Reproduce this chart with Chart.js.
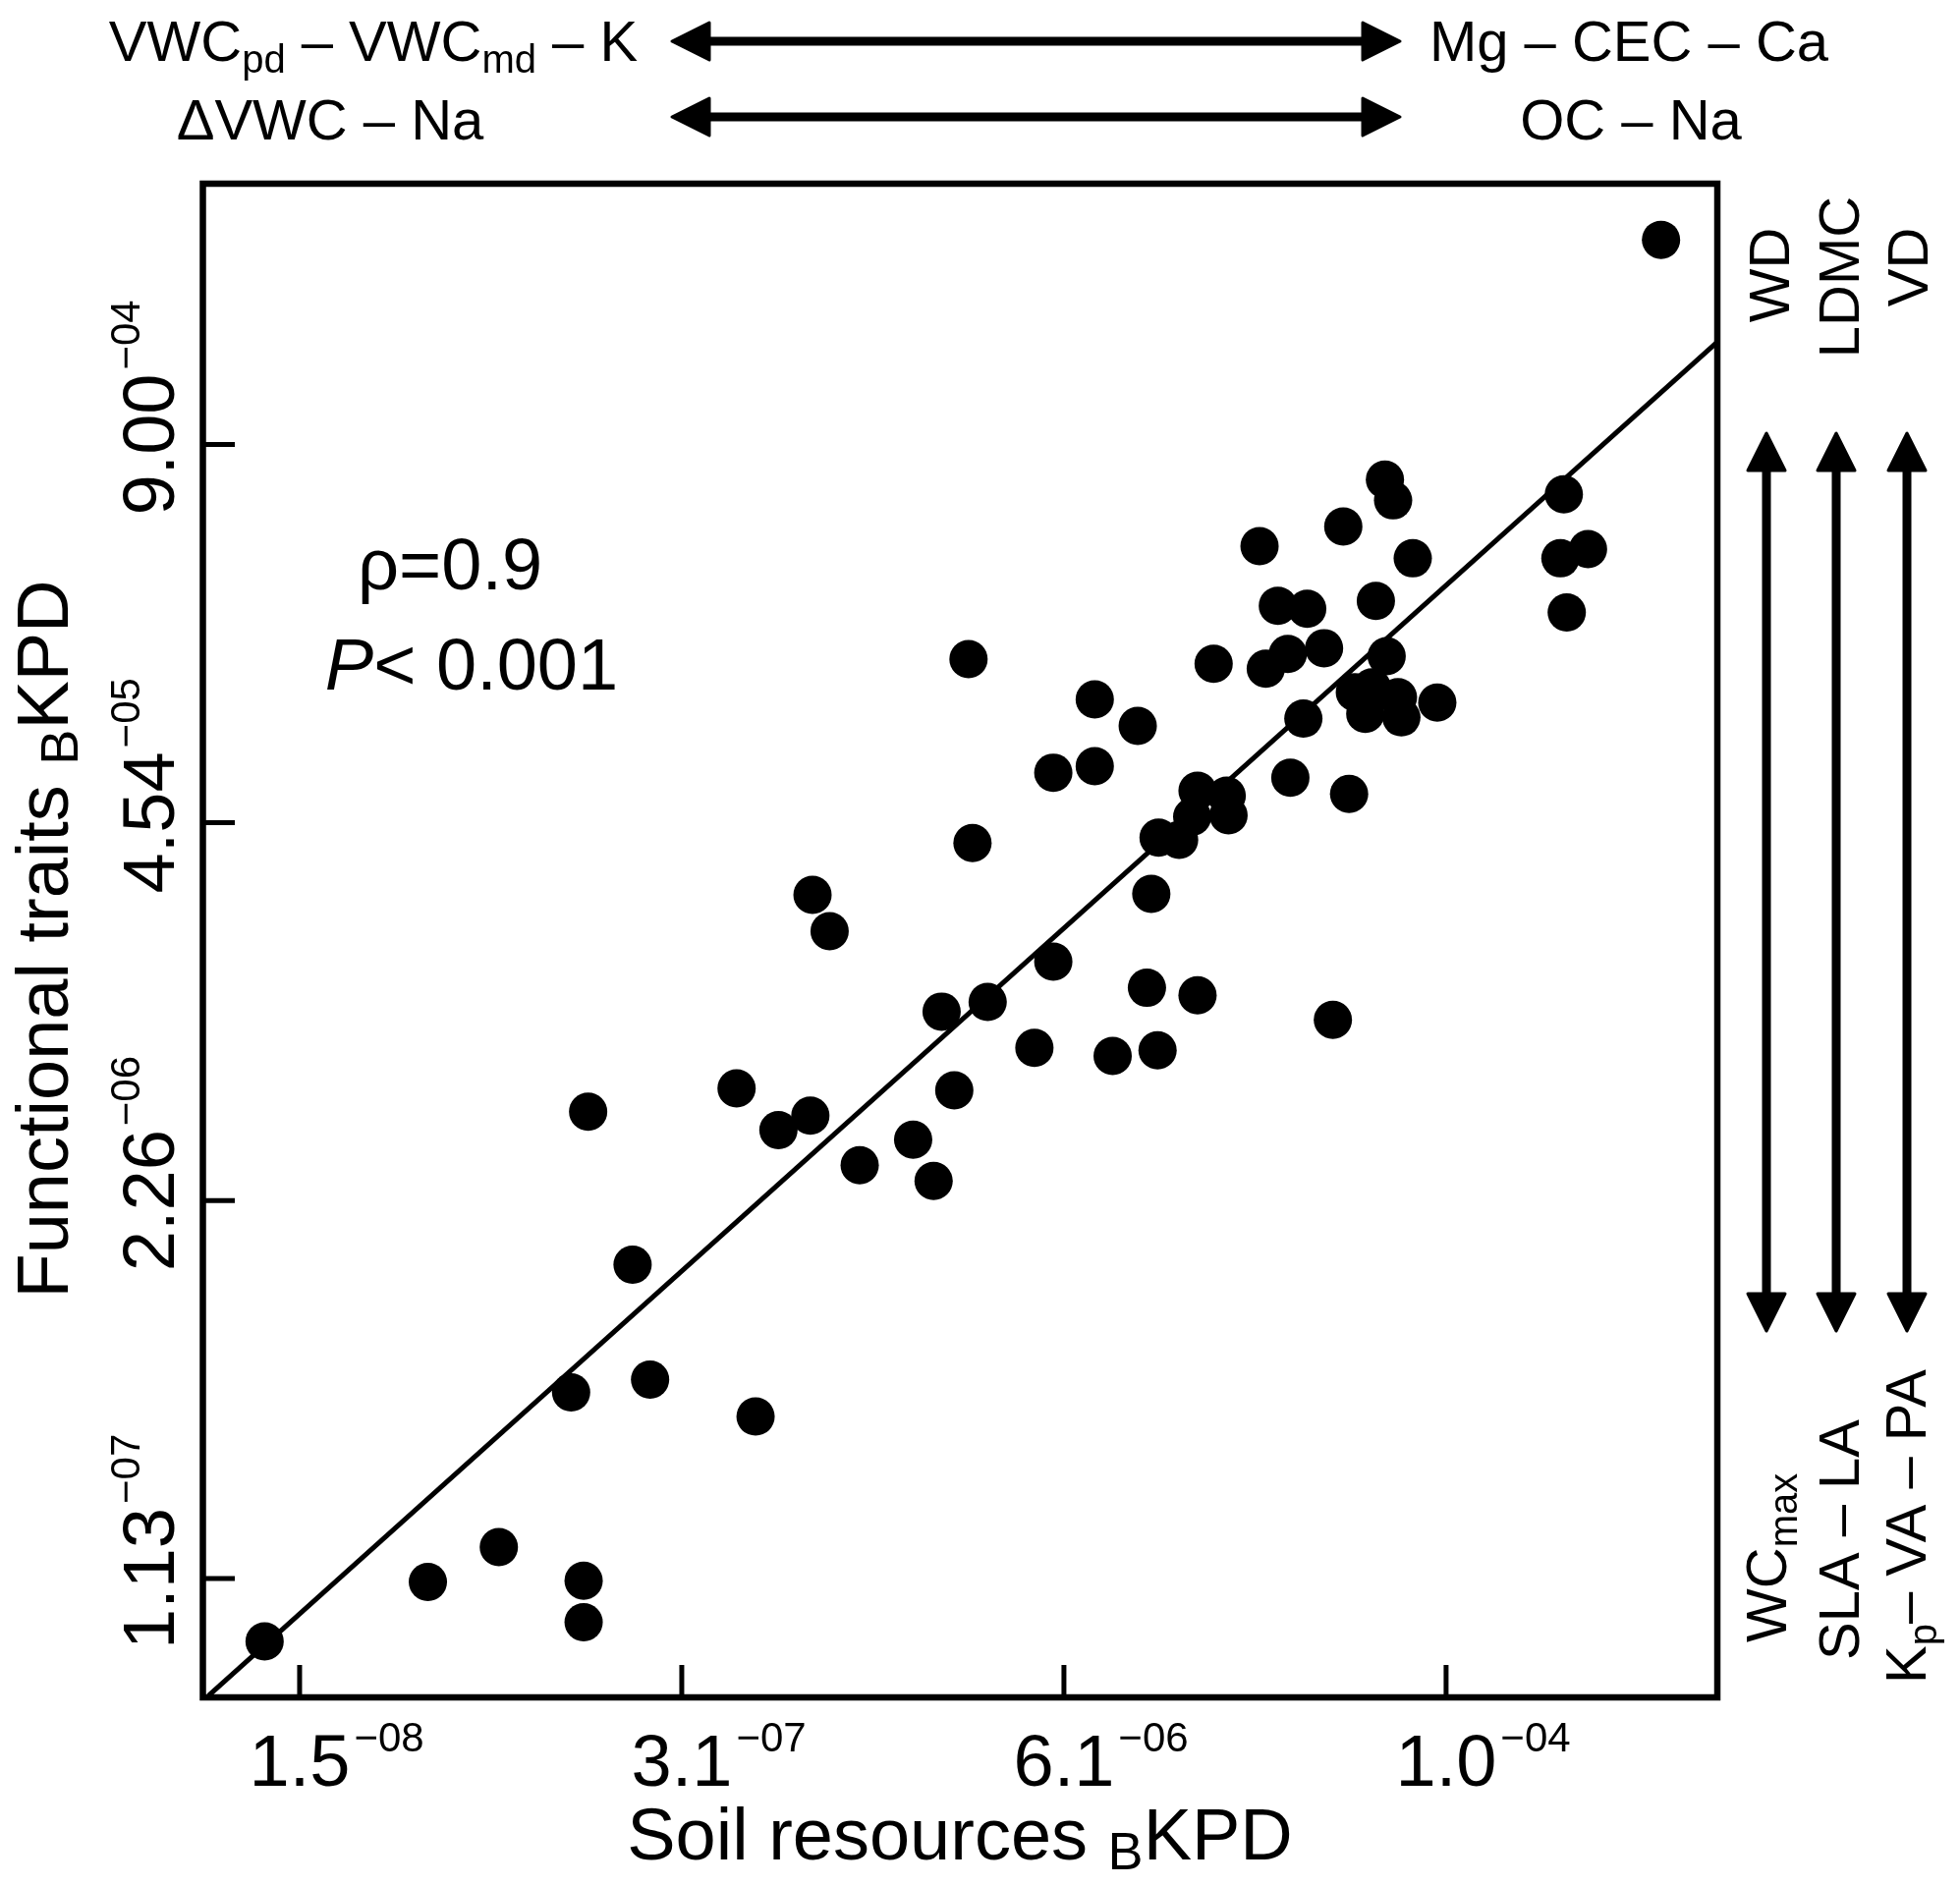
<!DOCTYPE html>
<html>
<head>
<meta charset="utf-8">
<script src="https://cdn.jsdelivr.net/npm/chart.js@4.4.1/dist/chart.umd.min.js"></script>
<style>
html,body{margin:0;padding:0;background:#fff;}
#wrap{width:1995px;height:1919px;}
</style>
</head>
<body>
<div id="wrap"><canvas id="c" width="1995" height="1919"></canvas></div>
<script>
// ---- data ----
const xValues = [
  6.47e-4, 7.43e-5, 7.92e-5, 5.36e-5, 2.78e-5, 9.24e-5, 3.02e-4, 2.94e-4, 3.65e-4, 3.09e-4,
  3.21e-5, 4.04e-5, 6.92e-5, 1.94e-5, 2.92e-5, 3.47e-5, 4.61e-5, 7.53e-5, 5.87e-5, 6.71e-5,
  6.37e-5, 8.23e-5, 8.45e-5, 1.12e-4, 3.92e-5, 3.54e-5, 5.61e-5, 2.84e-6, 7.64e-6, 1.07e-5,
  5.52e-6, 7.64e-6, 1.71e-5, 2.15e-5, 2.18e-5, 1.64e-5, 1.26e-5, 1.48e-5, 2.93e-6, 1.19e-5,
  5.52e-6, 3.30e-6, 2.30e-6, 4.76e-6, 8.79e-6, 1.25e-5, 1.15e-5, 1.71e-5, 4.94e-5, 2.54e-6,
  8.36e-7, 9.56e-7, 1.44e-7, 4.61e-7, 6.40e-7, 8.22e-7, 1.21e-6, 1.84e-6, 2.16e-6, 2.04e-7,
  1.26e-7, 2.34e-7, 5.35e-7, 7.15e-8, 4.10e-8, 1.39e-7, 1.39e-7, 1.14e-8
];
const yValues = [
  4.58e-3, 6.85e-4, 5.81e-4, 4.72e-4, 4.04e-4, 3.67e-4, 6.09e-4, 3.67e-4, 3.95e-4, 2.39e-4,
  2.52e-4, 2.46e-4, 2.62e-4, 1.59e-4, 1.53e-4, 1.72e-4, 1.80e-4, 1.69e-4, 1.27e-4, 1.32e-4,
  1.07e-4, 1.22e-4, 1.04e-4, 1.17e-4, 1.03e-4, 6.45e-5, 5.67e-5, 1.65e-4, 1.20e-4, 9.72e-5,
  6.71e-5, 7.07e-5, 5.82e-5, 5.59e-5, 4.79e-5, 4.73e-5, 4.01e-5, 3.94e-5, 3.84e-5, 2.57e-5,
  1.50e-5, 1.09e-5, 1.01e-5, 7.58e-6, 7.11e-6, 7.43e-6, 1.22e-5, 1.15e-5, 9.46e-6, 5.41e-6,
  2.55e-5, 1.91e-5, 4.57e-6, 5.50e-6, 3.95e-6, 4.43e-6, 2.99e-6, 3.66e-6, 2.64e-6, 1.36e-6,
  4.94e-7, 5.47e-7, 4.08e-7, 1.45e-7, 1.10e-7, 1.11e-7, 7.99e-8, 6.87e-8
];
// regression line end points (at the axis limits)
const fitX = [7.35e-9, 1.006e-3];
const fitY = [4.47e-8, 2.04e-3];

// axis ranges
const xRange = [7.35e-9, 1.006e-3];
const yRange = [4.406e-8, 7.146e-3];

// tick positions and labels
const xTickValues = [1.5e-8, 3.0e-7, 6.0e-6, 1.2e-4];
const xTickLabels = ['1.5', '3.1', '6.1', '1.0'];
const xTickExponents = ['\u221208', '\u221207', '\u221206', '\u221204'];
const yTickValues = [1.13e-7, 2.26e-6, 4.52e-5, 9.04e-4];
const yTickLabels = ['1.13', '2.26', '4.54', '9.00'];
const yTickExponents = ['\u221207', '\u221206', '\u221205', '\u221204'];

// texts
const xTitle = ['Soil resources ', 'B', 'KPD'];
const yTitle = ['Functional traits ', 'B', 'KPD'];
const statRho = '\u03C1=0.9';
const statP = ['P', '< 0.001'];

const FONT = '"Liberation Sans", Arial, Helvetica, sans-serif';

function setFont(ctx, r) {
  ctx.font = (r.italic ? 'italic ' : '') + r.size + 'px ' + FONT;
}
function runsWidth(ctx, runs) {
  let w = 0;
  for (const r of runs) { setFont(ctx, r); w += ctx.measureText(r.t).width; }
  return w;
}
function drawRuns(ctx, runs, x, y, align, rotate) {
  ctx.save();
  ctx.translate(x, y);
  if (rotate) ctx.rotate(-Math.PI / 2);
  const w = runsWidth(ctx, runs);
  let cx = align === 'center' ? -w / 2 : (align === 'right' ? -w : 0);
  ctx.textAlign = 'left';
  ctx.textBaseline = 'alphabetic';
  ctx.fillStyle = '#000';
  for (const r of runs) {
    setFont(ctx, r);
    ctx.fillText(r.t, cx, r.dy || 0);
    cx += ctx.measureText(r.t).width;
  }
  ctx.restore();
}
function dblArrow(ctx, x1, y1, x2, y2) {
  const L = 38, W = 38, S = 9;
  const dx = x2 - x1, dy = y2 - y1, len = Math.hypot(dx, dy);
  const ux = dx / len, uy = dy / len, nx = -uy, ny = ux;
  ctx.save();
  ctx.strokeStyle = '#000'; ctx.fillStyle = '#000';
  ctx.lineWidth = S; ctx.lineCap = 'butt';
  ctx.beginPath();
  ctx.moveTo(x1 + ux * (L - 4), y1 + uy * (L - 4));
  ctx.lineTo(x2 - ux * (L - 4), y2 - uy * (L - 4));
  ctx.stroke();
  ctx.lineWidth = 3; ctx.lineJoin = 'round';
  for (const [tx, ty, s] of [[x1, y1, 1], [x2, y2, -1]]) {
    const bx = tx + s * ux * L, by = ty + s * uy * L;
    ctx.beginPath();
    ctx.moveTo(tx, ty);
    ctx.lineTo(bx + nx * W / 2, by + ny * W / 2);
    ctx.lineTo(bx - nx * W / 2, by - ny * W / 2);
    ctx.closePath();
    ctx.fill(); ctx.stroke();
  }
  ctx.restore();
}

const decor = {
  id: 'decor',
  afterDraw(chart) {
    const ctx = chart.ctx, a = chart.chartArea;
    const xs = chart.scales.x, ys = chart.scales.y;
    ctx.save();
    // frame
    ctx.strokeStyle = '#000';
    ctx.lineWidth = 6.5;
    ctx.lineJoin = 'miter';
    ctx.strokeRect(a.left + 0.5, a.top, a.right - a.left - 0.5, a.bottom - a.top);
    // ticks (inward)
    ctx.lineWidth = 5;
    ctx.lineCap = 'butt';
    xTickValues.forEach(v => {
      const px = xs.getPixelForValue(v);
      ctx.beginPath(); ctx.moveTo(px, a.bottom); ctx.lineTo(px, a.bottom - 33); ctx.stroke();
    });
    yTickValues.forEach(v => {
      const py = ys.getPixelForValue(v);
      ctx.beginPath(); ctx.moveTo(a.left, py); ctx.lineTo(a.left + 33, py); ctx.stroke();
    });
    // x tick labels
    xTickValues.forEach((v, i) => {
      const px = xs.getPixelForValue(v);
      const main = [{ t: xTickLabels[i], size: 74 }];
      drawRuns(ctx, main, px, a.bottom + 90, 'center', false);
      const w = runsWidth(ctx, main);
      drawRuns(ctx, [{ t: xTickExponents[i], size: 42 }], px + w / 2 + 4, a.bottom + 55, 'left', false);
    });
    // y tick labels (rotated)
    yTickValues.forEach((v, i) => {
      const py = ys.getPixelForValue(v);
      const main = [{ t: yTickLabels[i], size: 74 }];
      const w = runsWidth(ctx, main);
      drawRuns(ctx, main, a.left - 29, py, 'center', true);
      ctx.save();
      ctx.translate(a.left - 29, py);
      ctx.rotate(-Math.PI / 2);
      ctx.fillStyle = '#000';
      ctx.textAlign = 'left';
      ctx.font = '42px ' + FONT;
      ctx.fillText(yTickExponents[i], w / 2 + 4, -35);
      ctx.restore();
    });
    // axis titles
    drawRuns(ctx, [{ t: xTitle[0], size: 74 }, { t: xTitle[1], size: 54, dy: 10 }, { t: xTitle[2], size: 74 }],
      (a.left + a.right) / 2, 1893, 'center', false);
    drawRuns(ctx, [{ t: yTitle[0], size: 74 }, { t: yTitle[1], size: 54, dy: 10 }, { t: yTitle[2], size: 74 }],
      69, 956, 'center', true);
    // statistics
    drawRuns(ctx, [{ t: statRho, size: 74 }], 458, 600, 'center', false);
    drawRuns(ctx, [{ t: statP[0], size: 74, italic: true }, { t: statP[1], size: 74 }], 480, 702, 'center', false);
    // top annotations
    drawRuns(ctx, [{ t: 'VWC', size: 58 }, { t: 'pd', size: 40, dy: 12 }, { t: ' \u2013 VWC', size: 58 },
      { t: 'md', size: 40, dy: 12 }, { t: ' \u2013 K', size: 58 }], 380, 62, 'center', false);
    drawRuns(ctx, [{ t: '\u0394VWC \u2013 Na', size: 58 }], 336, 142, 'center', false);
    drawRuns(ctx, [{ t: 'Mg \u2013 CEC \u2013 Ca', size: 58 }], 1658, 62, 'center', false);
    drawRuns(ctx, [{ t: 'OC \u2013 Na', size: 58 }], 1660, 142, 'center', false);
    dblArrow(ctx, 684, 42, 1425, 42);
    dblArrow(ctx, 684, 119, 1425, 119);
    // right annotations
    drawRuns(ctx, [{ t: 'WD', size: 58 }], 1821, 280, 'center', true);
    drawRuns(ctx, [{ t: 'LDMC', size: 58 }], 1892, 282, 'center', true);
    drawRuns(ctx, [{ t: 'VD', size: 58 }], 1962, 272, 'center', true);
    dblArrow(ctx, 1798, 441, 1798, 1355);
    dblArrow(ctx, 1869, 441, 1869, 1355);
    dblArrow(ctx, 1941, 441, 1941, 1355);
    drawRuns(ctx, [{ t: 'WC', size: 58 }, { t: 'max', size: 40, dy: 11 }], 1818, 1672, 'left', true);
    drawRuns(ctx, [{ t: 'SLA \u2013 LA', size: 58 }], 1892, 1690, 'left', true);
    drawRuns(ctx, [{ t: 'K', size: 58 }, { t: 'p', size: 40, dy: 11 }, { t: '\u2013 VA \u2013 PA', size: 58 }], 1960, 1714, 'left', true);
    ctx.restore();
  }
};

const points = xValues.map((x, i) => ({ x: x, y: yValues[i] }));
const fitLine = fitX.map((x, i) => ({ x: x, y: fitY[i] }));

new Chart(document.getElementById('c').getContext('2d'), {
  type: 'scatter',
  data: {
    datasets: [
      {
        data: fitLine, showLine: true, borderColor: '#000', borderWidth: 5,
        pointRadius: 0, pointHoverRadius: 0, fill: false
      },
      {
        data: points, pointRadius: 19.5, pointHoverRadius: 19.5,
        backgroundColor: '#000', borderColor: '#000', borderWidth: 0, pointBorderWidth: 0
      }
    ]
  },
  options: {
    responsive: false,
    animation: false,
    devicePixelRatio: 1,
    events: [],
    layout: { padding: { left: 206, top: 187, right: 247, bottom: 191 } },
    plugins: { legend: { display: false }, tooltip: { enabled: false } },
    scales: {
      x: { type: 'logarithmic', min: xRange[0], max: xRange[1], display: false },
      y: { type: 'logarithmic', min: yRange[0], max: yRange[1], display: false }
    }
  },
  plugins: [decor]
});
</script>
</body>
</html>
